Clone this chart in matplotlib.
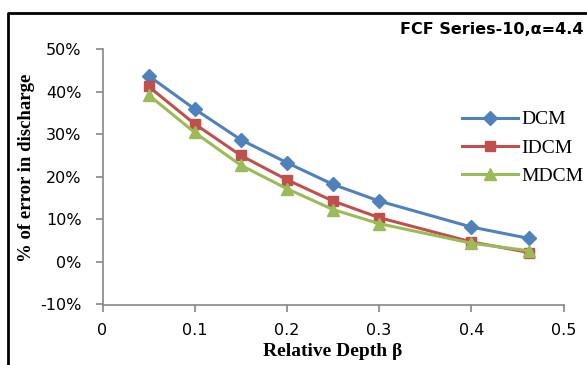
import matplotlib.pyplot as plt
from matplotlib.lines import Line2D
from matplotlib.ticker import FuncFormatter

# relative depth and % error in discharge for each method
beta = [0.05, 0.10, 0.15, 0.20, 0.25, 0.30, 0.40, 0.463]
dcm = [43.7, 35.9, 28.7, 23.3, 18.2, 14.3, 8.2, 5.5]
idcm = [41.2, 32.4, 25.0, 19.3, 14.3, 10.4, 4.7, 2.2]
mdcm = [39.2, 30.4, 22.7, 17.2, 12.3, 9.0, 4.4, 2.6]

W, H = 587, 365
fig = plt.figure(figsize=(W / 100, H / 100), dpi=100)
ax = fig.add_axes([102.5 / W, 1 - 304.5 / H, (563.5 - 102.5) / W, (304.5 - 49) / H])

ax.plot(beta, dcm, color='#4F81BD', lw=2.2, marker='D', ms=7.5, label='DCM')
ax.plot(beta, idcm, color='#C0504D', lw=2.2, marker='s', ms=7, label='IDCM')
ax.plot(beta, mdcm, color='#9BBB59', lw=2.2, marker='^', ms=8, label='MDCM')

ax.set_xlim(0, 0.5)
ax.set_ylim(-10, 50)
ax.set_xticks([0, 0.1, 0.2, 0.3, 0.4, 0.5])
ax.set_yticks(range(-10, 51, 10))
ax.set_xticklabels(['0', '0.1', '0.2', '0.3', '0.4', '0.5'])
ax.yaxis.set_major_formatter(FuncFormatter(lambda v, p: '%d%%' % v))

for s in ['top', 'right']:
    ax.spines[s].set_visible(False)
for s in ['left', 'bottom']:
    ax.spines[s].set_color('#868686')
    ax.spines[s].set_linewidth(1.2)
ax.tick_params(axis='both', colors='#868686', labelcolor='black', labelsize=11.5,
               length=5, width=1.2, direction='out')
ax.tick_params(axis='y', pad=10)
ax.tick_params(axis='x', pad=8)

fig.text(333 / W, 1 - 352 / H, 'Relative Depth \u03b2', ha='center', va='center',
         family='Liberation Serif', weight='bold', fontsize=14)
fig.text(27 / W, 1 - 168 / H, '% of error in discharge', ha='center', va='center',
         rotation=90, family='Liberation Serif', weight='bold', fontsize=13.5)
fig.text(584 / W, 1 - 29 / H, 'FCF Series-10,\u03b1=4.4', ha='right', va='center',
         weight='bold', fontsize=11.5)

fig.legend(loc='center left', bbox_to_anchor=(452 / W, 1 - 148 / H), frameon=False,
           prop={'family': 'Liberation Serif', 'size': 14}, handlelength=2.9,
           handletextpad=0.15, labelspacing=0.55, borderpad=0)

# outer chart frame (left and top edges visible)
fig.add_artist(Line2D([7.5 / W, 7.5 / W, 1], [0, 1 - 12.5 / H, 1 - 12.5 / H],
                      transform=fig.transFigure, color='black', lw=2))

fig.savefig('out.png', dpi=100)
